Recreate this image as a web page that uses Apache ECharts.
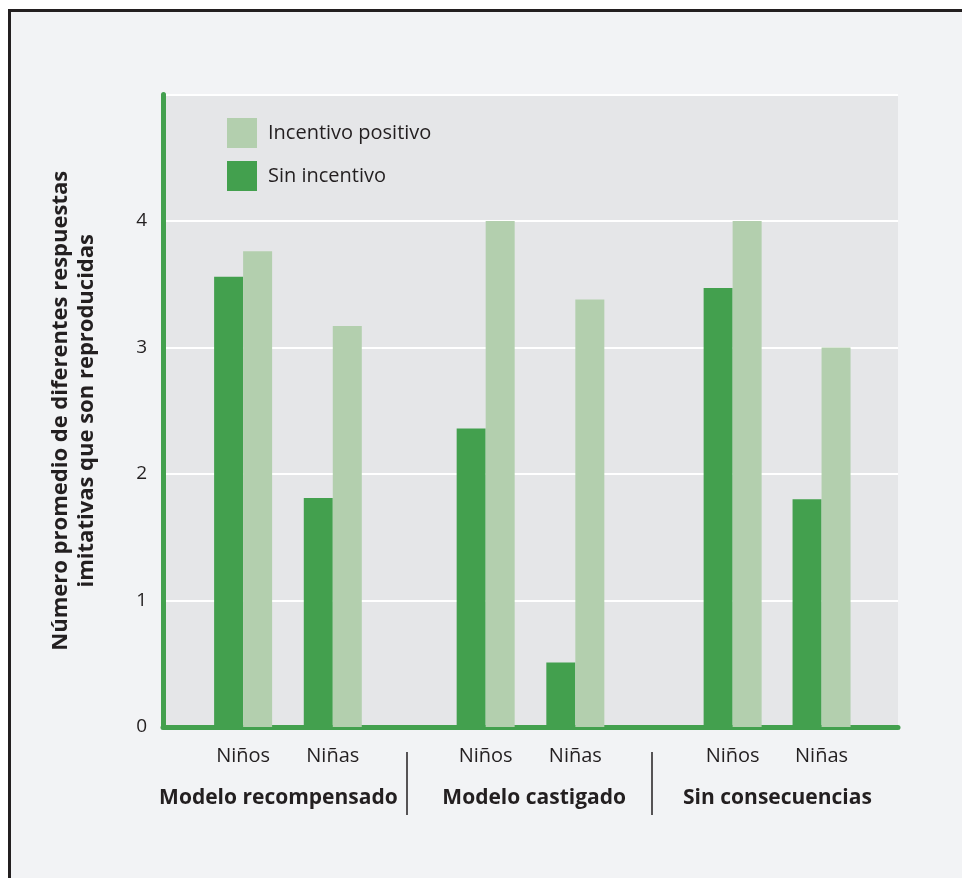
<!DOCTYPE html>
<html>
<head>
<meta charset="utf-8">
<script src="https://cdn.jsdelivr.net/npm/echarts@6/dist/echarts.min.js"></script>
<style>
  html, body { margin: 0; padding: 0; background: #ffffff; }
  #chart { width: 962px; height: 878px; }
</style>
</head>
<body>
<div id="chart"></div>
<script>
// posiciones de cada pareja de barras (unidades del eje x, 0..10)
var xPos = [1.09, 2.31, 4.39, 5.61, 7.75, 8.96];
var xLabels = ['Niños', 'Niñas', 'Niños', 'Niñas', 'Niños', 'Niñas'];
var sinIncentivo = [3.56, 1.81, 2.36, 0.51, 3.47, 1.80];
var incentivoPositivo = [3.76, 3.17, 4.0, 3.38, 4.0, 3.0];
var groupPos = [1.57, 5.05, 8.36];
var groupLabels = ['Modelo recompensado', 'Modelo castigado', 'Sin consecuencias'];
var sepPos = [3.32, 6.65];
var yTicks = ['0', '1', '2', '3', '4'];

var txt = '#231f20';
var font = 'Open Sans';

function pairs(vals) {
    return vals.map(function (v, i) { return [xPos[i], v]; });
}

var chart = echarts.init(document.getElementById('chart'));
var option = {
    backgroundColor: '#ffffff',
    animation: false,
    graphic: [{
        type: 'rect',
        z: -100,
        shape: { x: 9.5, y: 10.5, width: 1000, height: 1000 },
        style: { fill: '#f2f3f5', stroke: '#231f20', lineWidth: 3 }
    }],
    grid: {
        left: 163,
        right: 64,
        top: 94.5,
        bottom: 151,
        show: true,
        backgroundColor: '#e5e6e8',
        borderWidth: 0
    },
    legend: {
        left: 227,
        top: 118,
        orient: 'vertical',
        padding: 0,
        itemWidth: 30,
        itemHeight: 30,
        itemGap: 13,
        selectedMode: false,
        data: [
            { name: 'Incentivo positivo', icon: 'rect' },
            { name: 'Sin incentivo', icon: 'rect' }
        ],
        textStyle: { fontFamily: font, fontSize: 20, color: txt, padding: [8, 0, 0, 6] }
    },
    xAxis: [
        {
            type: 'value',
            min: 0,
            max: 10,
            position: 'bottom',
            splitLine: { show: false },
            axisTick: { show: false },
            axisLine: {
                show: true,
                lineStyle: { color: '#43a04e', width: 5, cap: 'round' }
            },
            axisLabel: {
                customValues: xPos,
                margin: 19,
                fontFamily: font,
                fontSize: 20,
                color: txt,
                formatter: function (v) {
                    return xLabels[xPos.indexOf(v)];
                }
            }
        },
        {
            type: 'value',
            min: 0,
            max: 10,
            position: 'bottom',
            offset: 25,
            splitLine: { show: false },
            axisLine: { show: false },
            axisTick: {
                show: true,
                customValues: sepPos,
                length: 63,
                lineStyle: { color: txt, width: 1.5 }
            },
            axisLabel: {
                customValues: groupPos,
                margin: 36,
                fontFamily: font,
                fontWeight: 'bold',
                fontSize: 21,
                color: txt,
                formatter: function (v) {
                    return groupLabels[groupPos.indexOf(v)];
                }
            }
        }
    ],
    yAxis: {
        type: 'value',
        min: 0,
        max: 5,
        interval: 1,
        name: 'Número promedio de diferentes respuestas\nimitativas que son reproducidas',
        nameLocation: 'middle',
        nameGap: 63,
        nameTextStyle: {
            fontFamily: font,
            fontWeight: 'bold',
            fontSize: 22,
            lineHeight: 26,
            color: txt
        },
        axisLine: {
            show: true,
            lineStyle: { color: '#43a04e', width: 5, cap: 'round' }
        },
        axisTick: { show: false },
        splitLine: { lineStyle: { color: '#ffffff', width: 2 } },
        axisLabel: {
            margin: 16,
            fontFamily: font,
            fontSize: 19,
            color: txt,
            formatter: function (v) {
                return yTicks[v] !== undefined ? yTicks[v] : '';
            }
        }
    },
    series: [
        {
            name: 'Sin incentivo',
            type: 'bar',
            xAxisIndex: 0,
            barWidth: 29,
            barGap: '0%',
            itemStyle: { color: '#43a04e' },
            data: pairs(sinIncentivo)
        },
        {
            name: 'Incentivo positivo',
            type: 'bar',
            xAxisIndex: 0,
            barWidth: 29,
            barGap: '0%',
            itemStyle: { color: '#b3cfae' },
            data: pairs(incentivoPositivo)
        }
    ]
};
chart.setOption(option);
</script>
</body>
</html>
